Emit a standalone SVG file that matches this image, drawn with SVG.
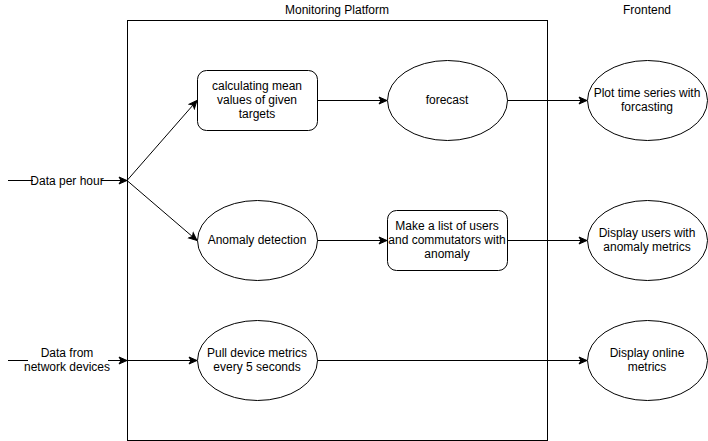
<svg xmlns="http://www.w3.org/2000/svg" width="708" height="441" viewBox="0 0 708 441">
<defs>
<marker id="arr" markerUnits="userSpaceOnUse" markerWidth="10" markerHeight="10" viewBox="0 0 10 10" refX="9" refY="5" orient="auto">
<path d="M1,1.5 L9,5 L1,8.5 L3,5 Z" fill="#000" stroke="#000" stroke-width="1"/>
</marker>
<style>
.shape{fill:#fff;stroke:#000;stroke-width:1}
.edge{fill:none;stroke:#000;stroke-width:1}
.arrow{marker-end:url(#arr)}
text{font-family:"Liberation Sans",Arial,Helvetica,sans-serif;font-size:12px;fill:#000;text-anchor:middle}
.lbl{fill:#fff;stroke:none}
</style>
</defs>
<rect width="708" height="441" fill="#fff"/>
<g id="platform">
<rect class="shape" x="127.5" y="20.5" width="420" height="420" fill="none"/>
<text x="337" y="14">Monitoring Platform</text>
</g>
<g id="frontend-title">
<text x="647" y="14">Frontend</text>
</g>
<g id="connectors">
<path class="edge arrow" d="M8,180.5 L127,180.5"/>
<path class="edge arrow" d="M127,180.5 L197,100.5"/>
<path class="edge arrow" d="M127,180.5 L197,240.5"/>
<path class="edge arrow" d="M317,100.5 L387,100.5"/>
<path class="edge arrow" d="M507,100.5 L587,100.5"/>
<path class="edge arrow" d="M317,240.5 L387,240.5"/>
<path class="edge arrow" d="M507,240.5 L587,240.5"/>
<path class="edge arrow" d="M8,360.5 L127,360.5"/>
<path class="edge arrow" d="M127,360.5 L197,360.5"/>
<path class="edge arrow" d="M317,360.5 L587,360.5"/>
<rect class="lbl" x="33" y="173" width="68" height="15"/>
<text x="67" y="185">Data per hour</text>
<rect class="lbl" x="28" y="346" width="80" height="29"/>
<text x="67" y="357">Data from</text>
<text x="67" y="371">network devices</text>
</g>
<g id="calc-mean">
<rect class="shape" x="197.5" y="70.5" width="120" height="60" rx="9" ry="9"/>
<text x="257" y="90">calculating mean</text>
<text x="257" y="104">values of given</text>
<text x="257" y="118">targets</text>
</g>
<g id="forecast">
<ellipse class="shape" cx="447.5" cy="100.5" rx="60" ry="40"/>
<text x="447" y="104">forecast</text>
</g>
<g id="plot">
<ellipse class="shape" cx="647.5" cy="100.5" rx="60" ry="40"/>
<text x="647" y="97">Plot time series with</text>
<text x="647" y="111">forcasting</text>
</g>
<g id="anomaly">
<ellipse class="shape" cx="257.5" cy="240.5" rx="60" ry="40"/>
<text x="257" y="244">Anomaly detection</text>
</g>
<g id="list">
<rect class="shape" x="387.5" y="210.5" width="120" height="60" rx="9" ry="9"/>
<text x="447" y="230">Make a list of users</text>
<text x="447" y="244">and commutators with</text>
<text x="447" y="258">anomaly</text>
</g>
<g id="display-users">
<ellipse class="shape" cx="647.5" cy="240.5" rx="60" ry="40"/>
<text x="647" y="237">Display users with</text>
<text x="647" y="251">anomaly metrics</text>
</g>
<g id="pull">
<ellipse class="shape" cx="257.5" cy="360.5" rx="60" ry="40"/>
<text x="257" y="357">Pull device metrics</text>
<text x="257" y="371">every 5 seconds</text>
</g>
<g id="display-online">
<ellipse class="shape" cx="647.5" cy="360.5" rx="60" ry="40"/>
<text x="647" y="357">Display online</text>
<text x="647" y="371">metrics</text>
</g>
</svg>
